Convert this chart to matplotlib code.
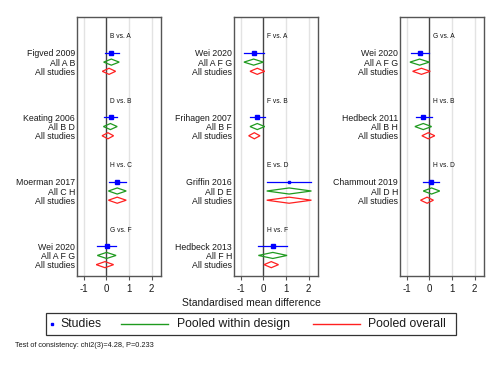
import matplotlib
matplotlib.use("Agg")
import matplotlib.pyplot as plt
from matplotlib.patches import Polygon, Rectangle
from matplotlib.lines import Line2D

plt.rcParams['font.family'] = ['Liberation Sans', 'DejaVu Sans']

# data (standardised mean differences)
panel_of = [0, 0, 0, 0, 1, 1, 1, 1, 2, 2, 2]
comparisons = ["B vs. A", "D vs. B", "H vs. C", "G vs. F",
               "F vs. A", "F vs. B", "E vs. D", "H vs. F",
               "G vs. A", "H vs. B", "H vs. D"]
study_names = ["Figved 2009", "Keating 2006", "Moerman 2017", "Wei 2020",
               "Wei 2020", "Frihagen 2007", "Griffin 2016", "Hedbeck 2013",
               "Wei 2020", "Hedbeck 2011", "Chammout 2019"]
design_names = ["All A B", "All B D", "All C H", "All A F G",
                "All A F G", "All B F", "All D E", "All F H",
                "All A F G", "All B H", "All D H"]

study_est = [0.22, 0.19, 0.47, 0.01, -0.42, -0.27, 1.14, 0.42, -0.43, -0.27, 0.09]
study_lo = [-0.07, -0.10, 0.10, -0.40, -0.86, -0.59, 0.15, -0.22, -0.83, -0.61, -0.30]
study_hi = [0.57, 0.48, 0.87, 0.41, 0.01, 0.06, 2.13, 1.05, -0.01, 0.10, 0.44]
study_msize = [3.0, 3.0, 3.0, 3.0, 3.0, 3.0, 1.6, 2.3, 3.0, 3.0, 3.0]

within_est = [0.22, 0.18, 0.48, 0.01, -0.43, -0.27, 1.14, 0.42, -0.43, -0.27, 0.10]
within_lo = [-0.12, -0.13, 0.09, -0.40, -0.86, -0.59, 0.15, -0.22, -0.86, -0.64, -0.27]
within_hi = [0.57, 0.48, 0.88, 0.43, 0.00, 0.06, 2.13, 1.05, 0.00, 0.10, 0.46]

overall_est = [0.12, 0.07, 0.48, -0.06, -0.27, -0.40, 1.14, 0.35, -0.35, -0.05, -0.10]
overall_lo = [-0.18, -0.19, 0.09, -0.45, -0.59, -0.65, 0.15, 0.03, -0.74, -0.33, -0.39]
overall_hi = [0.41, 0.32, 0.88, 0.32, 0.06, -0.15, 2.13, 0.67, 0.04, 0.24, 0.18]

xticks = [-1, 0, 1, 2]
consistency = "Test of consistency: chi2(3)=4.28, P=0.233"

BLUE = "#0000ff"
GREEN = "#1f9a1f"
RED = "#ff2020"
FRAME = "#555555"
TXT = "#1a1a1a"

W, H = 502, 365
fig = plt.figure(figsize=(W / 100, H / 100), dpi=100)


def fx(px):
    return px / W


def fy(py):
    return 1 - py / H


panel_left = [77, 234, 400]
top, bottom = 17, 275.7
axes = []
for left in panel_left:
    ax = fig.add_axes([fx(left), fy(bottom), 84 / W, (bottom - top) / H])
    ax.set_xlim(-1.3, 2.42)
    ax.set_ylim(26.1, -2.0)
    for g in [-1, 1, 2]:
        ax.axvline(g, color="#e3e3e3", lw=1, zorder=0)
    ax.axvline(0, color="#444444", lw=1, zorder=1)
    for s in ax.spines.values():
        s.set_color(FRAME)
        s.set_linewidth(1.0)
    ax.set_xticks(xticks)
    ax.set_xticklabels([str(t) for t in xticks])
    ax.tick_params(axis="x", length=3, width=0.8, color=FRAME, labelsize=7,
                   labelcolor=TXT, pad=3)
    ax.tick_params(axis="y", length=0, labelsize=6.3, labelcolor=TXT, pad=1.5)
    axes.append(ax)


def diamond(ax, lo, est, hi, y, color):
    h = 0.33
    pts = [(lo, y), (est, y - h), (hi, y), (est, y + h)]
    ax.add_patch(Polygon(pts, closed=True, fill=False, edgecolor=color, lw=0.9, zorder=3))


block_count = [0, 0, 0]
yticks = [[], [], []]
ylabels = [[], [], []]
for i in range(len(comparisons)):
    p = panel_of[i]
    ax = axes[p]
    base = 7 * block_count[p]
    block_count[p] += 1
    ax.text(0.17, base + 0.15, comparisons[i], fontsize=4.8, ha="left", va="center", color="#111111")
    ys, yw, yo = base + 1.9, base + 2.9, base + 3.9
    ax.plot([study_lo[i], study_hi[i]], [ys, ys], color=BLUE, lw=0.9, zorder=3)
    ax.plot([study_est[i]], [ys], marker="s", ms=study_msize[i], color=BLUE, zorder=4)
    diamond(ax, within_lo[i], within_est[i], within_hi[i], yw, GREEN)
    diamond(ax, overall_lo[i], overall_est[i], overall_hi[i], yo, RED)
    yticks[p] += [ys, yw, yo]
    ylabels[p] += [study_names[i], design_names[i], "All studies"]

for p, ax in enumerate(axes):
    ax.set_yticks(yticks[p])
    ax.set_yticklabels(ylabels[p])

fig.text(fx(251), fy(302.7), "Standardised mean difference", fontsize=7.5,
         ha="center", va="center", color=TXT)

# legend box drawn by hand to match the layout
fig.patches.append(Rectangle((fx(46), fy(335)), fx(456) - fx(46), fy(312.7) - fy(335),
                             transform=fig.transFigure, fill=True, facecolor="white",
                             edgecolor="#333333", lw=0.9))
ly = fy(324)
fig.lines.append(Line2D([fx(51.5)], [ly], marker="s", ms=1.6, color=BLUE, lw=0,
                        transform=fig.transFigure))
fig.text(fx(60), ly, "Studies", fontsize=8.8, va="center", color=TXT)
fig.lines.append(Line2D([fx(121), fx(168)], [ly, ly], color=GREEN, lw=1.0,
                        transform=fig.transFigure))
fig.text(fx(177), ly, "Pooled within design", fontsize=8.8, va="center", color=TXT)
fig.lines.append(Line2D([fx(313), fx(360)], [ly, ly], color=RED, lw=1.0,
                        transform=fig.transFigure))
fig.text(fx(368), ly, "Pooled overall", fontsize=8.8, va="center", color=TXT)

fig.text(fx(15), fy(345.7), consistency, fontsize=5.3, va="center", color=TXT)

fig.savefig("out.png", dpi=100, facecolor="white")
